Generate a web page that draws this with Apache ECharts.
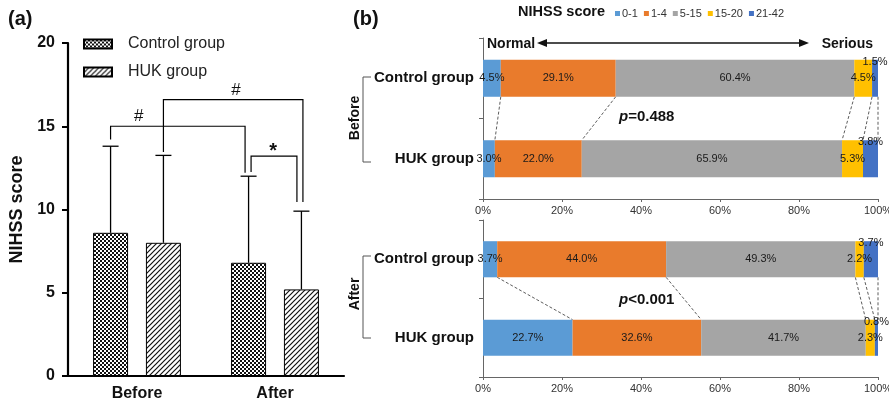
<!DOCTYPE html>
<html>
<head>
<meta charset="utf-8">
<script src="https://cdn.jsdelivr.net/npm/echarts@6/dist/echarts.min.js"></script>
<style>html,body{margin:0;padding:0;background:#fff}#c{width:889px;height:407px}</style>
</head>
<body>
<div id="c"></div>
<script>
// ---------- DATA ----------
const categories = ['Before', 'After'];
const controlMean = [8.6, 6.8];
const controlSD = [5.2, 5.2];
const hukMean = [8.0, 5.2];
const hukSD = [5.25, 4.7];
const yTicks = [0, 5, 10, 15, 20];
// significance brackets: [leftCat, leftSeries, rightCat, rightSeries, leftBottom, top, rightBottom]
const brackets = [
  [0, 0, 1, 0, 14.2, 15.0, 12.2],
  [0, 1, 1, 1, 13.45, 16.6, 10.45],
  [1, 0, 1, 1, 12.25, 13.2, 10.45]
];
const bracketLabels = ['#', '#', '*'];

const scoreGroups = ['0-1', '1-4', '5-15', '15-20', '21-42'];
const groupNames = ['Control group', 'HUK group'];
const beforeControl = [4.5, 29.1, 60.4, 4.5, 1.5];
const beforeHUK = [3.0, 22.0, 65.9, 5.3, 3.8];
const afterControl = [3.7, 44.0, 49.3, 2.2, 3.7];
const afterHUK = [22.7, 32.6, 41.7, 2.3, 0.8];
const pBefore = '0.488';
const pAfter = '<0.001';
const xTicksPct = [0, 20, 40, 60, 80, 100];

// ---------- STYLE ----------
const FONT = 'Arial, "Liberation Sans", sans-serif';
const segColors = ['#5B9BD5', '#E97B2C', '#A5A5A5', '#FFC000', '#4472C4'];
const BAR_W = 35, BAR_GAP = 0.51;
const BAR_OFF = (BAR_W + BAR_W * BAR_GAP) / 2;
const bracketNudge = [[0, -3.5], [0, 1.5], [2.5, -4.5]];
const bracketLabelFrac = [0.21, 0.52, 0.48];
const RBAR = 0.46;

function checkerPattern() {
  const c = document.createElement('canvas'); c.width = 4; c.height = 4;
  const g = c.getContext('2d');
  g.fillStyle = '#fff'; g.fillRect(0, 0, 4, 4);
  g.fillStyle = '#111'; g.fillRect(0, 0, 2, 2); g.fillRect(2, 2, 2, 2);
  return c;
}
function hatchPattern() {
  const s = 5;
  const c = document.createElement('canvas'); c.width = s; c.height = s;
  const g = c.getContext('2d');
  g.fillStyle = '#fff'; g.fillRect(0, 0, s, s);
  g.strokeStyle = '#111'; g.lineWidth = 1.2;
  g.beginPath();
  g.moveTo(-1, s + 1); g.lineTo(s + 1, -1);
  g.moveTo(-1, 1); g.lineTo(1, -1);
  g.moveTo(s - 1, s + 1); g.lineTo(s + 1, s - 1);
  g.stroke();
  return c;
}
const checker = { image: checkerPattern(), repeat: 'repeat' };
const hatch = { image: hatchPattern(), repeat: 'repeat' };

// ---------- helpers ----------
function shares(arr) {
  const s = arr.reduce((a, b) => a + b, 0);
  return arr.map(v => v / s * 100);
}
function cum(arr) {
  const sh = shares(arr); const out = []; let acc = 0;
  for (let i = 0; i < sh.length; i++) { acc += sh[i]; out.push(acc); }
  return out;
}

function errorSeries(means, sds, sign) {
  return {
    type: 'custom', xAxisIndex: 0, yAxisIndex: 0, silent: true, z: 5,
    data: means.map((m, i) => [i, m, m + sds[i]]),
    encode: { x: 0, y: [1, 2] },
    renderItem: function (params, api) {
      const b = api.coord([api.value(0), api.value(1)]);
      const t = api.coord([api.value(0), api.value(2)]);
      const x = b[0] + sign * BAR_OFF;
      return {
        type: 'group', children: [
          { type: 'line', shape: { x1: x, y1: b[1], x2: x, y2: t[1] }, style: { stroke: '#000', lineWidth: 1.3 } },
          { type: 'line', shape: { x1: x - 8, y1: t[1], x2: x + 8, y2: t[1] }, style: { stroke: '#000', lineWidth: 1.3 } }
        ]
      };
    }
  };
}

function stackSeries(ctrl, huk, xi, stackName) {
  const sc = shares(ctrl), sh = shares(huk);
  return scoreGroups.map((name, k) => ({
    name: name, type: 'bar', stack: stackName, xAxisIndex: xi, yAxisIndex: xi,
    barWidth: (RBAR * 100) + '%',
    itemStyle: { color: segColors[k] },
    data: [{ value: sc[k], raw: ctrl[k] }, { value: sh[k], raw: huk[k] }],
    label: Object.assign({
      show: true, fontSize: 11, fontFamily: FONT, color: '#1a1a1a',
      formatter: p => p.data.raw.toFixed(1) + '%'
    }, k === 4 ? { position: ['50%', 2], align: 'center', verticalAlign: 'middle' } : { position: 'inside' })
  }));
}

function connectorSeries(ctrl, huk, xi) {
  const cc = cum(ctrl), ch = cum(huk);
  return {
    type: 'custom', xAxisIndex: xi, yAxisIndex: xi, silent: true, z: 1,
    data: cc.map((v, i) => [v, 0, ch[i]]),
    encode: { x: [0, 2], y: 1 },
    renderItem: function (params, api) {
      const a = api.coord([api.value(0), 0]);
      const b = api.coord([api.value(2), 1]);
      const hb = api.size([0, 1])[1] * RBAR / 2;
      return {
        type: 'line', shape: { x1: a[0], y1: a[1] + hb, x2: b[0], y2: b[1] - hb },
        style: { stroke: '#333', lineWidth: 0.8, lineDash: [3, 2] }
      };
    }
  };
}

const xPctAxis = gi => ({
  type: 'value', gridIndex: gi, min: xTicksPct[0], max: xTicksPct[xTicksPct.length - 1], interval: 20,
  axisLine: { show: true, lineStyle: { color: '#666', width: 1 } },
  axisTick: { show: true, length: 3, lineStyle: { color: '#666' } },
  axisLabel: { formatter: '{value}%', fontSize: 11, color: '#333', margin: 6, fontFamily: FONT },
  splitLine: { show: false }
});
const yCatAxis = gi => ({
  type: 'category', gridIndex: gi, data: groupNames, inverse: true,
  axisLine: { show: true, lineStyle: { color: '#666' } },
  axisTick: { show: true, length: 4, lineStyle: { color: '#666' } },
  axisLabel: { fontSize: 15, fontWeight: 'bold', color: '#111', margin: 9, fontFamily: FONT }
});

const chart = echarts.init(document.getElementById('c'));
const option = {
  animation: false,
  textStyle: { fontFamily: FONT },
  grid: [
    { left: 68, top: 43, width: 276, bottom: 31, containLabel: false, outerBoundsMode: 'none' },
    { left: 483, top: 38, right: 11, height: 161, containLabel: false, outerBoundsMode: 'none' },
    { left: 483, top: 220, right: 11, height: 157, containLabel: false, outerBoundsMode: 'none' }
  ],
  legend: [
    {
      data: ['Control group', 'HUK group'], orient: 'vertical', left: 83, top: 36, padding: 0,
      itemWidth: 28, itemHeight: 9, itemGap: 12, icon: 'rect',
      textStyle: { fontSize: 16, color: '#222', fontFamily: FONT, padding: [0, 0, 0, 11] }, selectedMode: false
    },
    {
      data: scoreGroups, left: 610, top: 3, itemWidth: 5, itemHeight: 5, itemGap: 6, icon: 'rect',
      textStyle: { fontSize: 11, color: '#333', fontFamily: FONT, padding: [0, 0, 0, -3] }, selectedMode: false
    }
  ],
  xAxis: [
    {
      type: 'category', gridIndex: 0, data: categories,
      axisLine: { lineStyle: { color: '#000', width: 2.2 } },
      axisTick: { alignWithLabel: true, length: 5, lineStyle: { color: '#000', width: 2 } },
      axisLabel: { fontSize: 16, fontWeight: 'bold', color: '#111', margin: 10, fontFamily: FONT }
    },
    xPctAxis(1),
    xPctAxis(2)
  ],
  yAxis: [
    {
      type: 'value', gridIndex: 0, min: yTicks[0], max: yTicks[yTicks.length - 1], interval: 5,
      axisLine: { show: true, lineStyle: { color: '#000', width: 2.2 } },
      axisTick: { show: true, length: 6, lineStyle: { color: '#000', width: 2 } },
      axisLabel: { fontSize: 16, fontWeight: 'bold', color: '#111', margin: 13, fontFamily: FONT },
      splitLine: { show: false },
      name: 'NIHSS score', nameLocation: 'middle', nameGap: 42,
      nameTextStyle: { fontSize: 18, fontWeight: 'bold', color: '#111', fontFamily: FONT }
    },
    yCatAxis(1),
    yCatAxis(2)
  ],
  series: [
    {
      name: 'Control group', type: 'bar', xAxisIndex: 0, yAxisIndex: 0, data: controlMean,
      barWidth: BAR_W, barGap: (BAR_GAP * 100) + '%',
      itemStyle: { color: checker, borderColor: '#000', borderWidth: 1 }
    },
    {
      name: 'HUK group', type: 'bar', xAxisIndex: 0, yAxisIndex: 0, data: hukMean,
      barWidth: BAR_W, barGap: (BAR_GAP * 100) + '%',
      itemStyle: { color: hatch, borderColor: '#000', borderWidth: 1 }
    },
    errorSeries(controlMean, controlSD, -1),
    errorSeries(hukMean, hukSD, 1),
    {
      type: 'custom', xAxisIndex: 0, yAxisIndex: 0, silent: true, z: 6,
      data: brackets,
      encode: { x: [0, 2], y: [4, 5, 6] },
      renderItem: function (params, api) {
        const i = params.dataIndex;
        const off = s => (s === 0 ? -1 : 1) * BAR_OFF;
        const lx = api.coord([api.value(0), 0])[0] + off(api.value(1)) + bracketNudge[i][0];
        const rx = api.coord([api.value(2), 0])[0] + off(api.value(3)) + bracketNudge[i][1];
        const lb = api.coord([0, api.value(4)])[1];
        const ty = api.coord([0, api.value(5)])[1];
        const rb = api.coord([0, api.value(6)])[1];
        const star = bracketLabels[i] === '*';
        return {
          type: 'group', children: [
            { type: 'polyline', shape: { points: [[lx, lb], [lx, ty], [rx, ty], [rx, rb]] }, style: { stroke: '#000', lineWidth: 1.2, fill: null } },
            {
              type: 'text', style: {
                text: bracketLabels[i], x: lx + (rx - lx) * bracketLabelFrac[i], y: ty + (star ? 5 : -1),
                align: 'center', verticalAlign: 'bottom', fill: '#111',
                font: (star ? 'bold 20px ' : '17px ') + FONT
              }
            }
          ]
        };
      }
    },
    ...stackSeries(beforeControl, beforeHUK, 1, 'before'),
    ...stackSeries(afterControl, afterHUK, 2, 'after'),
    connectorSeries(beforeControl, beforeHUK, 1),
    connectorSeries(afterControl, afterHUK, 2)
  ],
  graphic: [
    { type: 'text', style: { text: '(a)', x: 8, y: 19, font: 'bold 20px ' + FONT, fill: '#111', verticalAlign: 'middle' } },
    { type: 'text', style: { text: '(b)', x: 353, y: 19, font: 'bold 20px ' + FONT, fill: '#111', verticalAlign: 'middle' } },
    { type: 'text', style: { text: 'NIHSS score', x: 518, y: 12, font: 'bold 14.5px ' + FONT, fill: '#111', verticalAlign: 'middle' } },
    { type: 'text', style: { text: 'Normal', x: 487, y: 44, font: 'bold 14px ' + FONT, fill: '#111', verticalAlign: 'middle' } },
    { type: 'text', style: { text: 'Serious', x: 873, y: 44, font: 'bold 14px ' + FONT, fill: '#111', align: 'right', verticalAlign: 'middle' } },
    { type: 'line', shape: { x1: 545, y1: 43, x2: 800, y2: 43 }, style: { stroke: '#111', lineWidth: 1.3 } },
    { type: 'polygon', shape: { points: [[537, 43], [547, 39], [547, 47]] }, style: { fill: '#111' } },
    { type: 'polygon', shape: { points: [[809, 43], [799, 39], [799, 47]] }, style: { fill: '#111' } },
    {
      type: 'text', style: {
        text: '{i|p}=' + pBefore, x: 619, y: 117, verticalAlign: 'middle', font: 'bold 15px ' + FONT, fill: '#111',
        rich: { i: { fontStyle: 'italic', fontWeight: 'bold', fontSize: 15, fontFamily: FONT, fill: '#111' } }
      }
    },
    {
      type: 'text', style: {
        text: '{i|p}' + pAfter, x: 619, y: 300, verticalAlign: 'middle', font: 'bold 15px ' + FONT, fill: '#111',
        rich: { i: { fontStyle: 'italic', fontWeight: 'bold', fontSize: 15, fontFamily: FONT, fill: '#111' } }
      }
    },
    { type: 'polyline', shape: { points: [[371, 77], [363, 77], [363, 162], [371, 162]] }, style: { stroke: '#555', lineWidth: 1, fill: null } },
    { type: 'polyline', shape: { points: [[371, 256], [363, 256], [363, 338], [371, 338]] }, style: { stroke: '#555', lineWidth: 1, fill: null } },
    { type: 'text', rotation: Math.PI / 2, x: 355, y: 118, style: { text: 'Before', x: 0, y: 0, font: 'bold 14px ' + FONT, fill: '#111', align: 'center', verticalAlign: 'middle' } },
    { type: 'text', rotation: Math.PI / 2, x: 355, y: 294, style: { text: 'After', x: 0, y: 0, font: 'bold 14px ' + FONT, fill: '#111', align: 'center', verticalAlign: 'middle' } }
  ]
};
chart.setOption(option);
</script>
</body>
</html>
